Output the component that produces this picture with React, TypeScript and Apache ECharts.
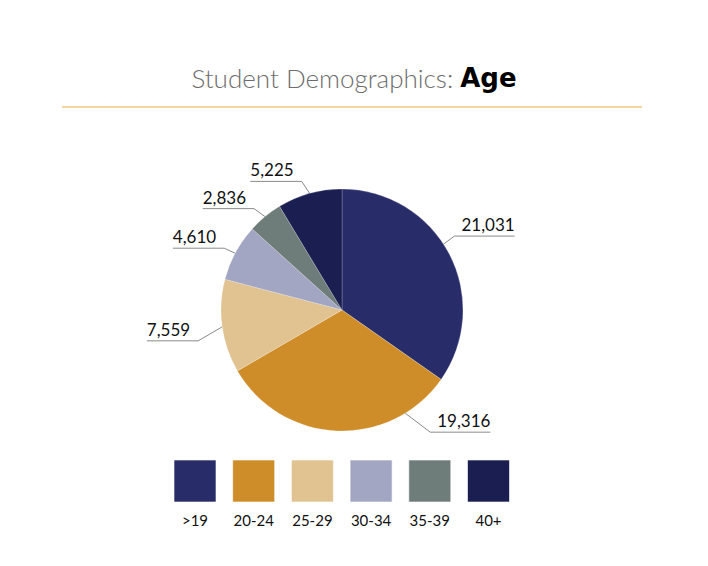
import React, { useEffect, useRef } from "react";
import * as echarts from "echarts";

const categories = [">19", "20-24", "25-29", "30-34", "35-39", "40+"];
const values = [21031, 19316, 7559, 4610, 2836, 5225];
const colors = ["#282D69", "#CF8D2A", "#E1C391", "#A2A6C2", "#6F7D7A", "#1A1E50"];

const CENTER: [number, number] = [342, 310];
const RADIUS = 121;
// leader line geometry (style): start angle (deg clockwise from top), elbow offset
const leaders = [
  { angle: 57, dx: 11, dy: -8, side: 1 },
  { angle: 148.5, dx: 25, dy: 19, side: 1 },
  { angle: 262, dx: -24, dy: 14, side: -1 },
  { angle: 298, dx: -11, dy: -5, side: -1 },
  { angle: 320.5, dx: -11, dy: -8, side: -1 },
  { angle: 344.5, dx: -8, dy: -12, side: -1 },
];

const fmt = (v: number) => v.toLocaleString("en-US");

export default function App() {
  const ref = useRef<HTMLDivElement>(null);
  useEffect(() => {
    if (!ref.current) return;
    const chart = echarts.init(ref.current, null, { renderer: "svg" });
    const legendX0 = 174;
    const legendStep = 58.7;
    const legendY = 460;
    const sq = 42;
    const legendGraphics: any[] = [];
    categories.forEach((c, i) => {
      legendGraphics.push({
        type: "rect",
        shape: { x: legendX0 + i * legendStep, y: legendY, width: sq, height: sq },
        style: { fill: colors[i], stroke: "rgba(255,255,255,0.6)", lineWidth: 1 },
      });
      legendGraphics.push({
        type: "text",
        x: legendX0 + i * legendStep + sq / 2,
        y: 520,
        style: {
          text: c,
          fill: "#111",
          font: "15px Lato",
          align: "center",
          verticalAlign: "middle",
        },
      });
    });
    chart.setOption({
      animation: false,
      backgroundColor: "#ffffff",
      title: {
        text: "{a|Student Demographics: }{b|Age}",
        left: "center",
        top: 60,
        textStyle: {
          rich: {
            a: { fontFamily: "Lato", fontSize: 26, color: "#6d6d6d", fontWeight: 300 },
            b: { fontFamily: "DejaVu Sans", fontSize: 26, color: "#000", fontWeight: "bold" },
          },
        },
      },
      graphic: [
        {
          type: "line",
          shape: { x1: 62, y1: 107, x2: 642, y2: 107 },
          style: { stroke: "#F2C97E", lineWidth: 1.5 },
        },
        ...legendGraphics,
      ],
      series: [
        {
          type: "pie",
          center: CENTER,
          radius: RADIUS,
          startAngle: 90,
          clockwise: true,
          data: categories.map((c, i) => ({
            name: c,
            value: values[i],
            itemStyle: { color: colors[i] },
          })),
          itemStyle: { borderColor: "rgba(255,255,255,0.35)", borderWidth: 0.6 },
          label: {
            show: true,
            position: "outside",
            formatter: (p: any) => fmt(p.value),
            fontFamily: "Lato",
            fontSize: 17,
            color: "#111",
          },
          labelLine: {
            show: true,
            length: 10,
            length2: 10,
            lineStyle: { color: "#8a8a8a", width: 1 },
          },
          emphasis: { disabled: true },
          labelLayout: (params: any) => {
            const l = leaders[params.dataIndex];
            const a = (l.angle * Math.PI) / 180;
            const ax = CENTER[0] + RADIUS * Math.sin(a);
            const ay = CENTER[1] - RADIUS * Math.cos(a);
            const tx = ax + l.dx;
            const ty = ay + l.dy;
            const w = params.labelRect.width;
            const gap = l.side > 0 ? 7 : 8;
            const lx = tx + l.side * gap;
            const ex = tx + l.side * (gap + w);
            return {
              x: lx,
              y: ty - 3,
              align: l.side > 0 ? "left" : "right",
              verticalAlign: "bottom",
              labelLinePoints: [
                [ax, ay],
                [tx, ty],
                [ex, ty],
              ],
            };
          },
        },
      ],
    });
    return () => chart.dispose();
  }, []);
  return (
    <div
      ref={ref}
      style={{ position: "absolute", left: 0, top: 0, width: 708, height: 566 }}
    />
  );
}
